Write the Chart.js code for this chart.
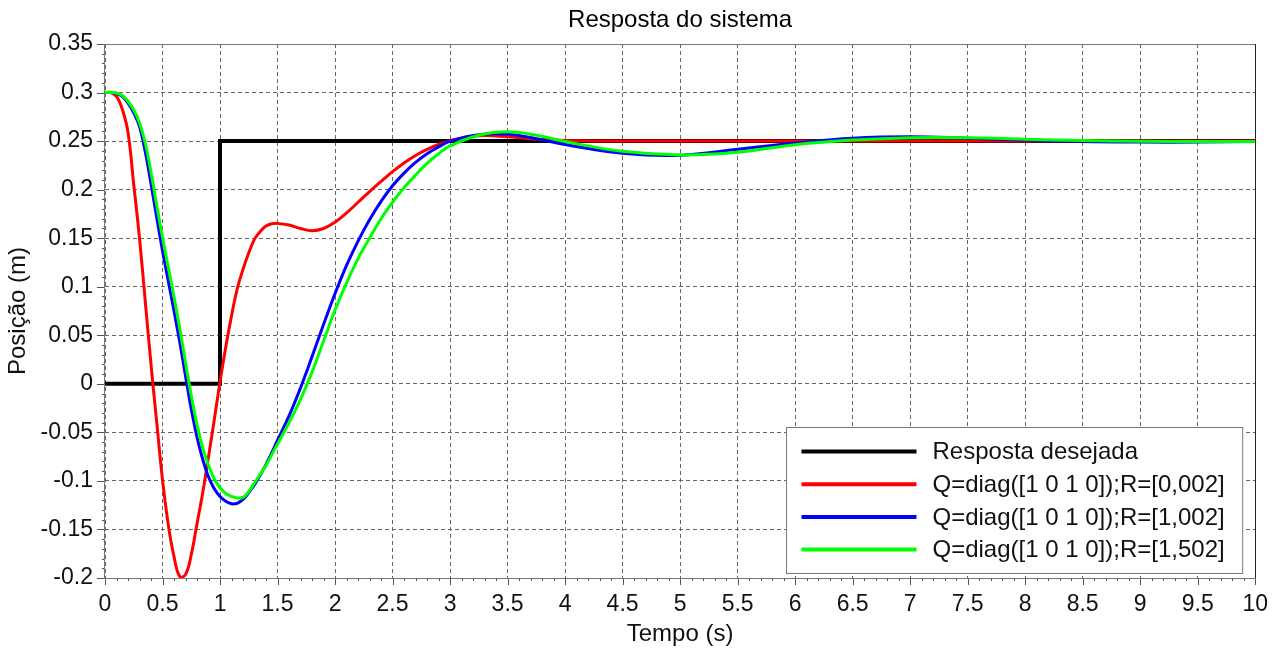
<!DOCTYPE html>
<html>
<head>
<meta charset="utf-8">
<script src="https://cdn.jsdelivr.net/npm/chart.js@4"></script>
<style>
  body { margin: 0; background: #fff; }
  canvas { display: block; }
</style>
</head>
<body>
<canvas id="grafico" width="1281" height="655"></canvas>
<script>
// tempo (s) comum às três respostas
const tempo = [0, 0.05, 0.1, 0.15, 0.2, 0.25, 0.3, 0.35, 0.4, 0.45, 0.5, 0.55, 0.6, 0.65, 0.7, 0.75, 0.8, 0.85, 0.9, 0.95,
  1.0, 1.05, 1.1, 1.15, 1.2, 1.25, 1.3, 1.35, 1.4, 1.45, 1.5,
  1.6, 1.7, 1.8, 1.9, 2.0, 2.1, 2.2, 2.3, 2.4, 2.5, 2.6, 2.7, 2.8, 2.9, 3.0,
  3.25, 3.5, 3.75, 4.0, 4.5, 5.0, 5.5, 6.0, 6.5, 7.0, 7.5, 8.0, 8.5, 9.0, 9.5, 10.0];

// resposta desejada (degrau)
const desejadaT = [0, 1, 1, 10];
const desejadaY = [0, 0, 0.25, 0.25];

// R = 0,002
const posR0002 = [0.300, 0.300, 0.296, 0.283, 0.259, 0.205, 0.150, 0.085, 0.020, -0.040, -0.099, -0.145, -0.178, -0.1985, -0.1965, -0.176, -0.144, -0.112, -0.075, -0.037,
  0.002, 0.038, 0.070, 0.098, 0.118, 0.135, 0.149, 0.157, 0.1625, 0.1648, 0.1652,
  0.1635, 0.1600, 0.1577, 0.160, 0.1665, 0.176, 0.187, 0.198, 0.2085, 0.2185, 0.2275, 0.2352, 0.2415, 0.2465, 0.2505,
  0.2555, 0.2545, 0.252, 0.2505, 0.2502, 0.2502, 0.2502, 0.2502, 0.2502, 0.2502, 0.2502, 0.2502, 0.2502, 0.2502, 0.2502, 0.2502];

// R = 1,002
const posR1002 = [0.300, 0.300, 0.299, 0.296, 0.289, 0.279, 0.265, 0.239, 0.206, 0.171, 0.137, 0.106, 0.075, 0.043, 0.008, -0.026, -0.055, -0.078, -0.096, -0.108,
  -0.116, -0.121, -0.1235, -0.123, -0.119, -0.112, -0.104, -0.094, -0.083, -0.071, -0.058,
  -0.033, -0.004, 0.028, 0.061, 0.093, 0.122, 0.147, 0.169, 0.188, 0.204, 0.217, 0.228, 0.237, 0.244, 0.250,
  0.2565, 0.257, 0.2525, 0.2465, 0.2375, 0.2355, 0.2415, 0.248, 0.253, 0.2545, 0.253, 0.251, 0.2495, 0.249, 0.249, 0.2495];

// R = 1,502
const posR1502 = [0.300, 0.300, 0.2995, 0.297, 0.291, 0.282, 0.269, 0.248, 0.218, 0.184, 0.151, 0.120, 0.090, 0.057, 0.022, -0.012, -0.042, -0.066, -0.084, -0.098,
  -0.107, -0.113, -0.116, -0.1175, -0.117, -0.111, -0.102, -0.093, -0.084, -0.073, -0.062,
  -0.040, -0.016, 0.012, 0.044, 0.076, 0.104, 0.129, 0.150, 0.170, 0.187, 0.202, 0.215, 0.227, 0.237, 0.245,
  0.256, 0.2595, 0.256, 0.2495, 0.2395, 0.2358, 0.2385, 0.2462, 0.251, 0.2535, 0.2535, 0.252, 0.2505, 0.2498, 0.2495, 0.2495];

const rotulos = ['Resposta desejada', 'Q=diag([1 0 1 0]);R=[0,002]', 'Q=diag([1 0 1 0]);R=[1,002]', 'Q=diag([1 0 1 0]);R=[1,502]'];
const cores = ['#000000', '#ff0000', '#0000ff', '#00ff00'];

const fonte = '"Liberation Sans", Arial, sans-serif';

function pontos(xs, ys) {
  return xs.map((x, i) => ({ x: x, y: ys[i] }));
}

// moldura, marcas menores, título e legenda
const extras = {
  id: 'extras',
  afterDraw(chart) {
    const ctx = chart.ctx;
    const a = chart.chartArea;
    const sx = chart.scales.x, sy = chart.scales.y;
    ctx.save();

    // marcas nos eixos
    ctx.strokeStyle = '#555';
    ctx.lineWidth = 1;
    ctx.beginPath();
    for (let i = 0; i <= 100; i++) {
      const px = Math.round(sx.getPixelForValue(i / 10)) + 0.5;
      const len = i % 5 === 0 ? 7 : 3;
      ctx.moveTo(px, a.bottom);
      ctx.lineTo(px, a.bottom + len);
    }
    for (let i = -20; i <= 35; i++) {
      const py = Math.round(sy.getPixelForValue(i / 100)) + 0.5;
      const len = i % 5 === 0 ? 8 : 3;
      ctx.moveTo(a.left - len, py);
      ctx.lineTo(a.left, py);
    }
    ctx.stroke();

    // moldura
    ctx.strokeStyle = '#777';
    ctx.strokeRect(Math.round(a.left) - 0.5, Math.round(a.top) + 0.5, Math.round(a.right - a.left) + 1, Math.round(a.bottom - a.top));
    ctx.strokeStyle = '#222';
    ctx.beginPath();
    ctx.moveTo(Math.round(a.right) + 0.5, a.top);
    ctx.lineTo(Math.round(a.right) + 0.5, a.bottom);
    ctx.stroke();

    // título
    ctx.fillStyle = '#000';
    ctx.font = '24px ' + fonte;
    ctx.textAlign = 'center';
    ctx.textBaseline = 'alphabetic';
    ctx.fillText('Resposta do sistema', (a.left + a.right) / 2, 27);

    // legenda
    ctx.font = '24px ' + fonte;
    const ds = chart.data.datasets;
    let larg = 0;
    ds.forEach(d => { larg = Math.max(larg, ctx.measureText(d.label).width); });
    const w = 146 + larg + 18;
    const h = 146;
    const x0 = Math.round(a.right - 13 - w) + 0.5;
    const y0 = Math.round(a.bottom - 5 - h) + 0.5;
    ctx.fillStyle = '#fff';
    ctx.fillRect(x0, y0, w, h);
    ctx.strokeStyle = '#777';
    ctx.strokeRect(x0, y0, w, h);
    ds.forEach((d, i) => {
      const yy = y0 + 24 + i * 32.7;
      ctx.strokeStyle = d.borderColor;
      ctx.lineWidth = 4;
      ctx.beginPath();
      ctx.moveTo(x0 + 15, yy);
      ctx.lineTo(x0 + 130, yy);
      ctx.stroke();
      ctx.fillStyle = '#111';
      ctx.textAlign = 'left';
      ctx.textBaseline = 'middle';
      ctx.fillText(d.label, x0 + 146, yy + 1);
    });
    ctx.restore();
  }
};

const conjuntos = [
  { label: rotulos[0], data: pontos(desejadaT, desejadaY), borderColor: cores[0], borderWidth: 4, tension: 0, order: 4 },
  { label: rotulos[1], data: pontos(tempo, posR0002), borderColor: cores[1], borderWidth: 3, tension: 0.4, clip: 3, order: 3 },
  { label: rotulos[2], data: pontos(tempo, posR1002), borderColor: cores[2], borderWidth: 3, tension: 0.4, order: 2 },
  { label: rotulos[3], data: pontos(tempo, posR1502), borderColor: cores[3], borderWidth: 3, tension: 0.4, order: 1 }
];

new Chart(document.getElementById('grafico').getContext('2d'), {
  type: 'line',
  data: { datasets: conjuntos },
  plugins: [extras],
  options: {
    responsive: false,
    animation: false,
    parsing: false,
    elements: { point: { radius: 0 }, line: { fill: false } },
    layout: { padding: { top: 44, right: 20, left: 0, bottom: 0 } },
    plugins: {
      legend: { display: false },
      title: { display: false },
      tooltip: { enabled: false }
    },
    scales: {
      x: {
        type: 'linear',
        min: 0,
        max: 10,
        afterFit: s => { s.height = 77; },
        ticks: {
          stepSize: 0.5,
          padding: 13,
          color: '#111',
          font: { family: fonte, size: 23 },
          maxRotation: 0,
          callback: v => String(Number(v.toFixed(1)))
        },
        grid: { color: '#666', drawTicks: false, lineWidth: 1 },
        border: { display: false, dash: [4, 3] },
        title: { display: true, text: 'Tempo (s)', color: '#111', font: { family: fonte, size: 24 }, padding: { top: 4, bottom: 6 } }
      },
      y: {
        type: 'linear',
        min: -0.2,
        max: 0.35,
        afterFit: s => { s.width = 105; },
        ticks: {
          stepSize: 0.05,
          padding: 12,
          color: '#111',
          font: { family: fonte, size: 23 },
          callback: v => String(Number(v.toFixed(2)))
        },
        grid: { color: '#666', drawTicks: false, lineWidth: 1 },
        border: { display: false, dash: [4, 3] },
        title: { display: true, text: 'Posição (m)', color: '#111', font: { family: fonte, size: 24 }, padding: { top: 4, bottom: 4 } }
      }
    }
  }
});
</script>
</body>
</html>
